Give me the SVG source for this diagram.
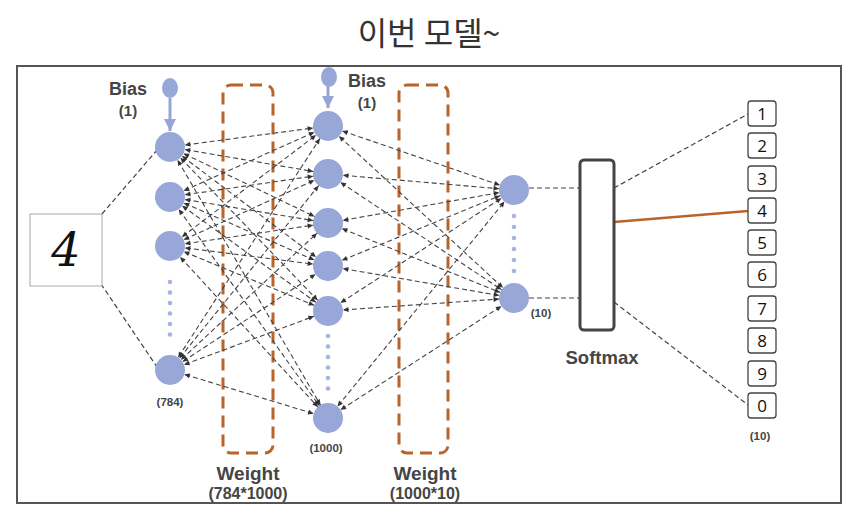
<svg xmlns="http://www.w3.org/2000/svg" width="857" height="511" viewBox="0 0 857 511">
<defs>
<marker id="ah" markerUnits="userSpaceOnUse" markerWidth="8" markerHeight="8" refX="20.5" refY="2.5" orient="auto-start-reverse" overflow="visible">
<path d="M0,0 L5.5,2.5 L0,5 z" fill="#333"/>
</marker>
<marker id="bh" markerUnits="userSpaceOnUse" markerWidth="14" markerHeight="14" refX="12" refY="6" orient="auto" overflow="visible">
<path d="M0,0 L12,6 L0,12 z" fill="#95a5d8"/>
</marker>
</defs>
<style>
.node{fill:#97a7d8}
.dot{fill:#a6b4e0}
.dl{stroke:#444;stroke-width:1.2;stroke-dasharray:5,3;fill:none}
.da{stroke:#444;stroke-width:1.1;stroke-dasharray:5,3;fill:none;marker-start:url(#ah);marker-end:url(#ah)}
.wbox{fill:none;stroke:#b8642a;stroke-width:3;stroke-dasharray:12,7}
.lb{font-family:"Liberation Sans",Arial,sans-serif;font-weight:bold;fill:#454545;text-anchor:middle}
.ob{fill:#fff;stroke:#444;stroke-width:1.3}
.ot{font-family:"Open Sans","Liberation Sans",sans-serif;font-size:17px;fill:#111;text-anchor:middle}
</style>
<rect width="857" height="511" fill="#fff"/>
<text x="429" y="45" font-family="Noto Sans CJK KR, sans-serif" font-size="32" fill="#333" text-anchor="middle">이번 모델~</text>
<rect x="17" y="66" width="824" height="437" fill="#fff" stroke="#555" stroke-width="2"/>

<g id="weights">
<rect id="weight1" class="wbox" x="223" y="85" width="50" height="368" rx="8"/>
<rect id="weight2" class="wbox" x="399" y="85" width="49" height="368" rx="8"/>
</g>

<g id="connectors">
<line class="dl" x1="102" y1="214" x2="157" y2="150"/>
<line class="dl" x1="101" y1="284" x2="157" y2="367"/>
<g>
<line class="da" x1="170" y1="147" x2="328" y2="126"/>
<line class="da" x1="170" y1="147" x2="328" y2="174"/>
<line class="da" x1="170" y1="147" x2="328" y2="223"/>
<line class="da" x1="170" y1="147" x2="328" y2="266"/>
<line class="da" x1="170" y1="147" x2="328" y2="311"/>
<line class="da" x1="170" y1="147" x2="328" y2="418"/>
<line class="da" x1="170" y1="197" x2="328" y2="126"/>
<line class="da" x1="170" y1="197" x2="328" y2="174"/>
<line class="da" x1="170" y1="197" x2="328" y2="223"/>
<line class="da" x1="170" y1="197" x2="328" y2="266"/>
<line class="da" x1="170" y1="197" x2="328" y2="311"/>
<line class="da" x1="170" y1="197" x2="328" y2="418"/>
<line class="da" x1="170" y1="246" x2="328" y2="126"/>
<line class="da" x1="170" y1="246" x2="328" y2="174"/>
<line class="da" x1="170" y1="246" x2="328" y2="223"/>
<line class="da" x1="170" y1="246" x2="328" y2="266"/>
<line class="da" x1="170" y1="246" x2="328" y2="311"/>
<line class="da" x1="170" y1="246" x2="328" y2="418"/>
<line class="da" x1="170" y1="370" x2="328" y2="126"/>
<line class="da" x1="170" y1="370" x2="328" y2="174"/>
<line class="da" x1="170" y1="370" x2="328" y2="223"/>
<line class="da" x1="170" y1="370" x2="328" y2="266"/>
<line class="da" x1="170" y1="370" x2="328" y2="311"/>
<line class="da" x1="170" y1="370" x2="328" y2="418"/>
</g>
<g>
<line class="da" x1="328" y1="126" x2="514" y2="190"/>
<line class="da" x1="328" y1="126" x2="514" y2="298"/>
<line class="da" x1="328" y1="174" x2="514" y2="190"/>
<line class="da" x1="328" y1="174" x2="514" y2="298"/>
<line class="da" x1="328" y1="223" x2="514" y2="190"/>
<line class="da" x1="328" y1="223" x2="514" y2="298"/>
<line class="da" x1="328" y1="266" x2="514" y2="190"/>
<line class="da" x1="328" y1="266" x2="514" y2="298"/>
<line class="da" x1="328" y1="311" x2="514" y2="190"/>
<line class="da" x1="328" y1="311" x2="514" y2="298"/>
<line class="da" x1="328" y1="418" x2="514" y2="190"/>
<line class="da" x1="328" y1="418" x2="514" y2="298"/>
</g>
<line class="dl" x1="529" y1="188" x2="580" y2="188"/>
<line class="dl" x1="529" y1="298" x2="580" y2="298"/>
<line class="dl" x1="614" y1="188" x2="748" y2="114"/>
<line x1="614" y1="222" x2="748" y2="211" stroke="#b8642a" stroke-width="2.5"/>
<line class="dl" x1="614" y1="302" x2="748" y2="405"/>
<line x1="170" y1="98" x2="170" y2="131" stroke="#95a5d8" stroke-width="3" marker-end="url(#bh)"/>
<line x1="328" y1="85" x2="328" y2="108" stroke="#95a5d8" stroke-width="3" marker-end="url(#bh)"/>
</g>

<g id="input-image">
<rect x="30" y="214" width="72" height="72" fill="#fff" stroke="#aaa" stroke-width="1"/>
<text x="66" y="266" font-family="DejaVu Serif, serif" font-style="italic" font-size="46" fill="#111" text-anchor="middle">4</text>
</g>

<g id="bias1">
<ellipse cx="170" cy="88" rx="8" ry="10" class="node"/>
<text class="lb" x="128" y="95" font-size="18">Bias</text>
<text class="lb" x="128" y="116" font-size="15">(1)</text>
</g>
<g id="bias2">
<ellipse cx="329" cy="77" rx="8" ry="10" class="node"/>
<text class="lb" x="367" y="87" font-size="18">Bias</text>
<text class="lb" x="367" y="108" font-size="15">(1)</text>
</g>

<g id="layer-input">
<circle class="node" cx="170" cy="147" r="15"/>
<circle class="node" cx="170" cy="197" r="15"/>
<circle class="node" cx="170" cy="246" r="15"/>
<circle class="dot" cx="170" cy="282" r="2.3"/>
<circle class="dot" cx="170" cy="292.5" r="2.3"/>
<circle class="dot" cx="170" cy="303" r="2.3"/>
<circle class="dot" cx="170" cy="313.5" r="2.3"/>
<circle class="dot" cx="170" cy="324" r="2.3"/>
<circle class="dot" cx="170" cy="334.5" r="2.3"/>
<circle class="node" cx="170" cy="370" r="15"/>
<text class="lb" x="170" y="406" font-size="11.5">(784)</text>
</g>

<g id="layer-hidden">
<circle class="node" cx="328" cy="126" r="15"/>
<circle class="node" cx="328" cy="174" r="15"/>
<circle class="node" cx="328" cy="223" r="15"/>
<circle class="node" cx="328" cy="266" r="15"/>
<circle class="node" cx="328" cy="311" r="15"/>
<circle class="dot" cx="328" cy="336" r="2.3"/>
<circle class="dot" cx="328" cy="346.5" r="2.3"/>
<circle class="dot" cx="328" cy="357" r="2.3"/>
<circle class="dot" cx="328" cy="367.5" r="2.3"/>
<circle class="dot" cx="328" cy="378" r="2.3"/>
<circle class="dot" cx="328" cy="388.5" r="2.3"/>
<circle class="node" cx="328" cy="418" r="15"/>
<text class="lb" x="326" y="452" font-size="11.5">(1000)</text>
</g>

<g id="layer-output">
<circle class="node" cx="514" cy="190" r="15"/>
<circle class="dot" cx="514" cy="216" r="2.3"/>
<circle class="dot" cx="514" cy="227" r="2.3"/>
<circle class="dot" cx="514" cy="238" r="2.3"/>
<circle class="dot" cx="514" cy="249" r="2.3"/>
<circle class="dot" cx="514" cy="260" r="2.3"/>
<circle class="dot" cx="514" cy="271" r="2.3"/>
<circle class="node" cx="514" cy="298" r="15"/>
<text class="lb" x="541" y="317" font-size="11.5">(10)</text>
</g>

<g id="weight-labels">
<text class="lb" x="248" y="480" font-size="19">Weight</text>
<text class="lb" x="248" y="499" font-size="16">(784*1000)</text>
<text class="lb" x="425" y="480" font-size="19">Weight</text>
<text class="lb" x="425" y="499" font-size="16">(1000*10)</text>
</g>

<g id="softmax">
<rect x="580" y="160" width="34" height="170" rx="4" fill="#fff" stroke="#444" stroke-width="3"/>
<text class="lb" x="602" y="364" font-size="18.5">Softmax</text>
</g>

<g id="outputs">
<rect class="ob" x="748" y="101" width="28" height="25" rx="3"/><text class="ot" x="762" y="120">1</text>
<rect class="ob" x="748" y="133" width="28" height="25" rx="3"/><text class="ot" x="762" y="152">2</text>
<rect class="ob" x="748" y="166" width="28" height="25" rx="3"/><text class="ot" x="762" y="185">3</text>
<rect class="ob" x="748" y="198" width="28" height="25" rx="3"/><text class="ot" x="762" y="217">4</text>
<rect class="ob" x="748" y="230" width="28" height="25" rx="3"/><text class="ot" x="762" y="249">5</text>
<rect class="ob" x="748" y="262" width="28" height="25" rx="3"/><text class="ot" x="762" y="281">6</text>
<rect class="ob" x="748" y="296" width="28" height="25" rx="3"/><text class="ot" x="762" y="315">7</text>
<rect class="ob" x="748" y="328" width="28" height="25" rx="3"/><text class="ot" x="762" y="347">8</text>
<rect class="ob" x="748" y="361" width="28" height="25" rx="3"/><text class="ot" x="762" y="380">9</text>
<rect class="ob" x="748" y="393" width="28" height="25" rx="3"/><text class="ot" x="762" y="412">0</text>
<text class="lb" x="760" y="440" font-size="11.5">(10)</text>
</g>
</svg>
